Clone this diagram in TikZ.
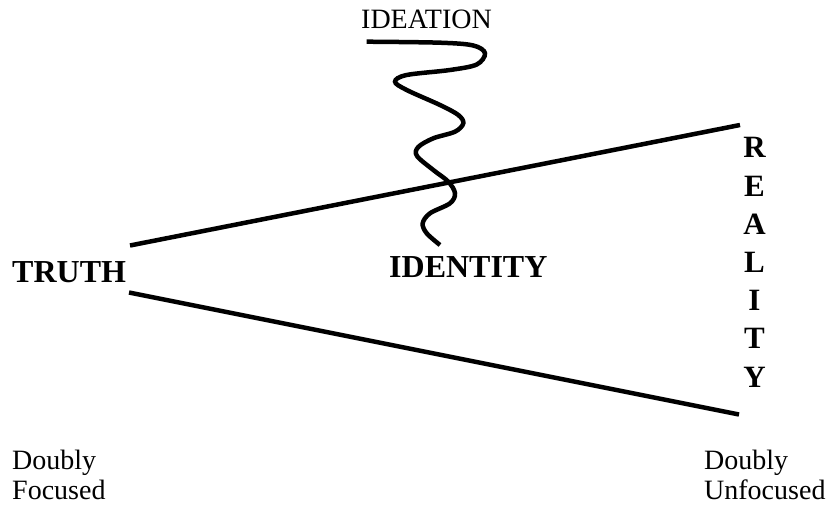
\documentclass[tikz,border=0pt]{standalone}
\usepackage{fontspec}
\setmainfont{Liberation Serif}
\begin{document}
\begin{tikzpicture}[x=1pt,y=-1pt,
  thickline/.style={line width=4.5pt},
  bigbold/.style={font=\fontsize{32}{38}\selectfont\bfseries, inner sep=0pt},
  plainlabel/.style={font=\fontsize{28}{30}\selectfont, inner sep=0pt, align=left},
]
\useasboundingbox (0,0) rectangle (833,508);
% axes of the wedge
\coordinate (uL) at (130,245.5);
\coordinate (uR) at (740,125);
\coordinate (lL) at (129,292.5);
\coordinate (lR) at (739,414.5);
\draw[thickline] (uL) -- (uR);
\draw[thickline] (lL) -- (lR);
% wavy line
\draw[line width=4.5pt, line cap=butt] plot[smooth, tension=0.55] coordinates {
 (366.7,41.7) (440,42.7) (473.3,45.5) (485,53.3) (476.7,64.5) (450,70)
 (406.7,75) (395,81.7) (406.7,90) (440,105) (458.3,115) (463.3,123.3)
 (455,131.7) (433.3,138.3) (418.3,147) (417,156) (433.3,170) (448.3,181.7)
 (455,193.3) (450,203.3) (430,213.3) (422.7,223.3) (426.7,233.3) (440,245)};
% labels
\node[font=\fontsize{28}{32}\selectfont, inner sep=0pt, anchor=base west] (ideation) at (361,29) {IDEATION};
\node[bigbold, anchor=base west] (truth) at (12,282) {TRUTH};
\node[bigbold, anchor=base west] (identity) at (389,277) {IDENTITY};
\node[bigbold, anchor=base, align=center, font=\fontsize{31}{38.2}\selectfont\bfseries] (reality) at (754.5,387) {R\\E\\A\\L\\I\\T\\Y};
\node[plainlabel, anchor=base west] (dfoc) at (12,499) {Doubly\\Focused};
\node[plainlabel, anchor=base west] (dunf) at (704,499) {Doubly\\Unfocused};
\end{tikzpicture}
\end{document}
